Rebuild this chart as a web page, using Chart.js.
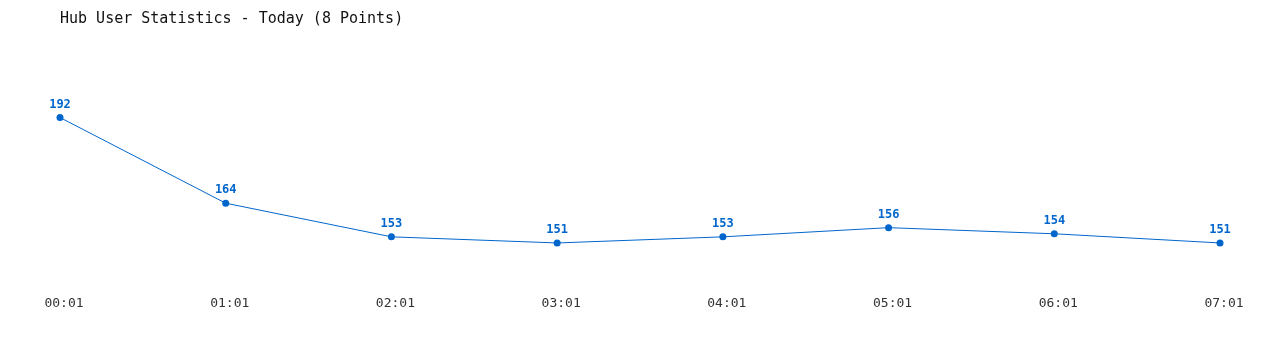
<!DOCTYPE html>
<html><head><meta charset="utf-8">
<script src="https://cdn.jsdelivr.net/npm/chart.js@4"></script>
<style>html,body{margin:0;padding:0;background:#fff}#wrap{width:1280px;height:350px}</style>
</head><body><div id="wrap"><canvas id="c" width="1280" height="350"></canvas></div>
<script>
const categories = ["00:01","01:01","02:01","03:01","04:01","05:01","06:01","07:01"];
const users = [192,164,153,151,153,156,154,151];
const titleText = "Hub User Statistics - Today (8 Points)";

const valueLabels = {
  id: 'valueLabels',
  afterDatasetsDraw(chart) {
    const ctx = chart.ctx;
    const meta = chart.getDatasetMeta(0);
    ctx.save();
    ctx.font = "bold 12px 'DejaVu Sans Mono', monospace";
    ctx.fillStyle = "#0066cc";
    ctx.textAlign = "center";
    ctx.textBaseline = "middle";
    meta.data.forEach((pt, i) => {
      ctx.fillText(String(chart.data.datasets[0].data[i]), pt.x, pt.y - 13);
    });
    ctx.restore();
  }
};

new Chart(document.getElementById('c'), {
  type: 'line',
  data: {
    labels: categories,
    datasets: [{
      data: users,
      borderColor: '#0066cc',
      backgroundColor: '#0066cc',
      borderWidth: 1,
      pointRadius: 3.5,
      pointBackgroundColor: '#0066cc',
      pointBorderWidth: 0,
      tension: 0,
      fill: false
    }]
  },
  options: {
    responsive: false,
    animation: false,
    layout: { padding: { left: 60, right: 60, top: 0, bottom: 30 } },
    plugins: {
      legend: { display: false },
      tooltip: { enabled: false },
      title: {
        display: true,
        text: titleText,
        align: 'start',
        color: '#111',
        font: { family: "'DejaVu Sans Mono', monospace", size: 15, weight: 'normal' },
        padding: { top: 10, bottom: 10 }
      }
    },
    scales: {
      x: {
        offset: false,
        grid: { display: false, drawTicks: false },
        border: { display: false },
        ticks: { color: '#333', padding: 9, maxRotation: 0, labelOffset: 4,
          font: { family: "'DejaVu Sans Mono', monospace", size: 13 } }
      },
      y: {
        display: false,
        min: 136.8, max: 218
      }
    }
  },
  plugins: [valueLabels]
});
</script></body></html>
